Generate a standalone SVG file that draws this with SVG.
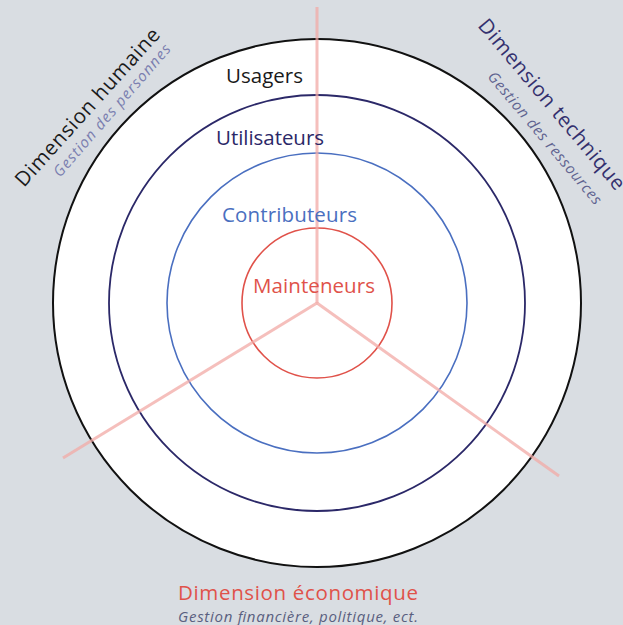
<svg xmlns="http://www.w3.org/2000/svg" width="623" height="625" viewBox="0 0 623 625">
<style>
text{font-family:"Open Sans","Noto Sans","DejaVu Sans",sans-serif}
.ring{fill:none}
.axis{stroke:#f2aaa5;stroke-width:3;stroke-opacity:0.75;fill:none}
.lbl{font-size:20.5px}
.sub{font-style:italic;font-size:15px}
</style>
<rect width="623" height="625" fill="#d9dde2"/>
<g id="outer"><circle cx="317" cy="303" r="264" fill="#ffffff" stroke="#111111" stroke-width="2"/></g>
<g id="utilisateurs-ring"><circle class="ring" cx="317" cy="303" r="208" stroke="#2b2868" stroke-width="1.8"/></g>
<g id="contributeurs-ring"><circle class="ring" cx="317" cy="303" r="150" stroke="#4a6fc0" stroke-width="1.6"/></g>
<g id="mainteneurs-ring"><circle class="ring" cx="317" cy="303" r="75" stroke="#e0524a" stroke-width="1.6"/></g>
<g id="connectors">
<line class="axis" x1="317" y1="303" x2="317" y2="7"/>
<line class="axis" x1="317" y1="303" x2="63" y2="458"/>
<line class="axis" x1="317" y1="303" x2="559" y2="476"/>
</g>
<g id="usagers"><text class="lbl" x="226" y="83" textLength="77" fill="#1a1a1a">Usagers</text></g>
<g id="utilisateurs"><text class="lbl" x="216" y="145" textLength="108" fill="#2b2868">Utilisateurs</text></g>
<g id="contributeurs"><text class="lbl" x="222" y="222" textLength="135" fill="#4a6fc0">Contributeurs</text></g>
<g id="mainteneurs"><text class="lbl" x="253" y="293" textLength="122" fill="#e0524a">Mainteneurs</text></g>
<g id="dim-humaine">
<text class="lbl" transform="translate(24,188) rotate(-48)" textLength="205" fill="#1a1a1a">Dimension humaine</text>
<text class="sub" transform="translate(60,178) rotate(-49)" textLength="170" fill="#7b7fb0">Gestion des personnes</text>
</g>
<g id="dim-technique">
<text class="lbl" transform="translate(477,26) rotate(50)" textLength="216" fill="#33306e">Dimension technique</text>
<text class="sub" transform="translate(487,77) rotate(50)" textLength="168" fill="#5f6390">Gestion des ressources</text>
</g>
<g id="dim-economique">
<text class="lbl" x="178" y="600" textLength="240" fill="#e0524a">Dimension économique</text>
<text class="sub" x="178" y="622" textLength="240" fill="#5a5f80">Gestion financière, politique, ect.</text>
</g>
</svg>
